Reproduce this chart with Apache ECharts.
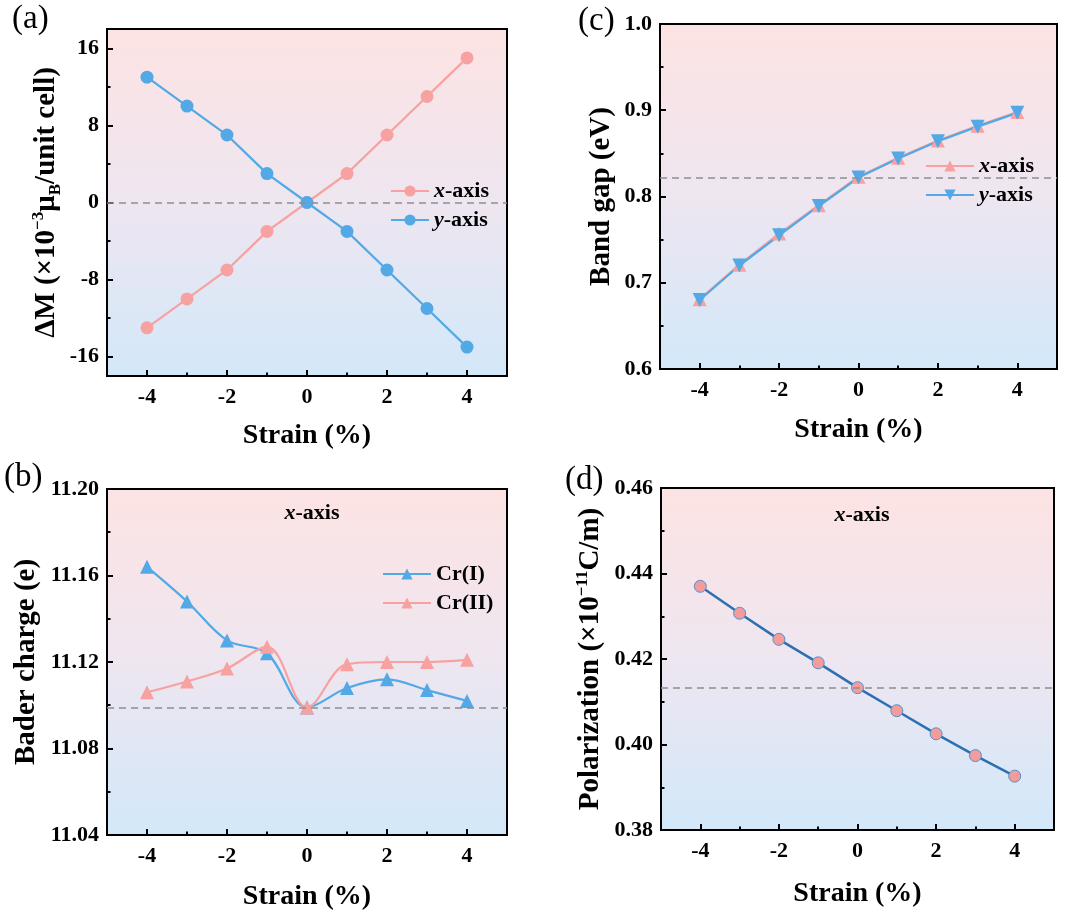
<!DOCTYPE html>
<html>
<head>
<meta charset="utf-8">
<script src="https://cdn.jsdelivr.net/npm/echarts@6/dist/echarts.min.js"></script>
<style>
  html, body { margin: 0; padding: 0; background: #fff; }
  #chart { width: 1080px; height: 914px; }
</style>
</head>
<body>
<div id="chart"></div>
<script>
// strain values shared by all four panels
const strain = [-4, -3, -2, -1, 0, 1, 2, 3, 4];

// (a) magnetic moment change
const dmX = [-13, -10, -7, -3, 0, 3, 7, 11, 15];
const dmY = [13, 10, 7, 3, 0, -3, -7, -11, -15];
// (c) band gap
const gapX = [0.681, 0.721, 0.757, 0.790, 0.823, 0.845, 0.865, 0.882, 0.898];
const gapY = [0.680, 0.720, 0.755, 0.789, 0.822, 0.844, 0.864, 0.881, 0.897];
// (b) bader charge
const baderCr1 = [11.164, 11.148, 11.130, 11.124, 11.099, 11.108, 11.112, 11.107, 11.102];
const baderCr2 = [11.106, 11.111, 11.117, 11.127, 11.099, 11.119, 11.120, 11.120, 11.121];
// (d) polarization
const polX = [0.4370, 0.4307, 0.4246, 0.4191, 0.4133, 0.4079, 0.4025, 0.3974, 0.3926];

// dashed reference levels
const refA = 0, refB = 11.0987, refC = 0.822, refD = 0.4133;

// tick values
const xMajor = [-4, -2, 0, 2, 4];
const xMinor = [-3, -1, 1, 3];
const aMajor = [-16, -8, 0, 8, 16];
const aMinor = [-12, -4, 4, 12];
const bMajor = [11.04, 11.08, 11.12, 11.16, 11.20];
const bMinor = [11.06, 11.10, 11.14, 11.18];
const cMajor = [0.6, 0.7, 0.8, 0.9, 1.0];
const cMinor = [0.65, 0.75, 0.85, 0.95];
const dMajor = [0.38, 0.40, 0.42, 0.44, 0.46];
const dMinor = [0.39, 0.41, 0.43, 0.45];

const FONT = 'Liberation Serif';
const PINK = '#f7a1a0';
const BLUE = '#52a9e5';
const DBLUE = '#2c6fb3';

const chart = echarts.init(document.getElementById('chart'));

const bg = () => new echarts.graphic.LinearGradient(0, 0, 0, 1, [
  { offset: 0, color: '#fde3e3' },
  { offset: 0.5, color: '#eee6f0' },
  { offset: 1, color: '#d2e8f9' }
]);

function nameStyle(size) {
  return {
    fontFamily: FONT, fontWeight: 'bold', fontSize: size, color: '#000',
    rich: {
      n: { fontFamily: FONT, fontWeight: 'bold', fontSize: size, lineHeight: 34, color: '#000' },
      sup: { fontFamily: FONT, fontWeight: 'bold', fontSize: 17, lineHeight: 18, verticalAlign: 'top', color: '#000' },
      sub: { fontFamily: FONT, fontWeight: 'bold', fontSize: 17, lineHeight: 18, verticalAlign: 'bottom', color: '#000' }
    }
  };
}
const labelFont = { fontFamily: FONT, fontWeight: 'bold', fontSize: 22, color: '#000' };
const blackLine = { show: true, onZero: false, lineStyle: { color: '#000', width: 2 } };

// main axis (line, labels, long ticks) plus overlapping axis carrying the short ticks
function xAxes(gi, gap) {
  return [{
    type: 'value', gridIndex: gi, position: 'bottom', min: -5, max: 5,
    axisLine: blackLine,
    axisTick: { show: true, inside: true, length: 6, lineStyle: { color: '#000', width: 2 }, customValues: xMajor },
    axisLabel: Object.assign({ customValues: xMajor, margin: 10 }, labelFont),
    splitLine: { show: false },
    name: 'Strain (%)', nameLocation: 'middle', nameGap: gap, nameTextStyle: nameStyle(28)
  }, {
    type: 'value', gridIndex: gi, position: 'bottom', min: -5, max: 5,
    axisLine: blackLine,
    axisTick: { show: true, inside: true, length: 3.5, lineStyle: { color: '#000', width: 2 }, customValues: xMinor },
    axisLabel: { show: false },
    splitLine: { show: false }
  }];
}

function yAxes(gi, min, max, major, minor, digits, name, gap) {
  return [{
    type: 'value', gridIndex: gi, position: 'left', min: min, max: max,
    axisLine: blackLine,
    axisTick: { show: true, inside: true, length: 6, lineStyle: { color: '#000', width: 2 }, customValues: major },
    axisLabel: Object.assign({
      customValues: major, margin: 8, showMinLabel: true, showMaxLabel: true,
      formatter: v => v.toFixed(digits)
    }, labelFont),
    splitLine: { show: false },
    name: name, nameLocation: 'middle', nameGap: gap, nameTextStyle: nameStyle(29)
  }, {
    type: 'value', gridIndex: gi, position: 'left', min: min, max: max,
    axisLine: blackLine,
    axisTick: { show: true, inside: true, length: 3.5, lineStyle: { color: '#000', width: 2 }, customValues: minor },
    axisLabel: { show: false },
    splitLine: { show: false }
  }];
}

const pairs = arr => strain.map((s, i) => [s, arr[i]]);
const refLine = v => ({
  silent: true, symbol: 'none', precision: 5, label: { show: false },
  lineStyle: { type: [7, 5], color: '#8f8f8f', width: 1.5 },
  data: [{ yAxis: v }]
});

const downTri = 'path://M0,0 L10,0 L5,9 Z';

const legendText = {
  'a-x': '{i|x}{n|-axis}', 'a-y': '{i|y}{n|-axis}',
  'c-x': '{i|x}{n|-axis}', 'c-y': '{i|y}{n|-axis}',
  'b-1': '{n|Cr(I)}', 'b-2': '{n|Cr(II)}'
};
const legendRich = {
  i: { fontFamily: FONT, fontWeight: 'bold', fontStyle: 'italic', fontSize: 22, lineHeight: 20, color: '#000' },
  n: { fontFamily: FONT, fontWeight: 'bold', fontSize: 22, lineHeight: 20, color: '#000' }
};
function legend(names, left, top, w) {
  return {
    data: names, left: left, top: top, orient: 'vertical', itemWidth: w, itemHeight: 14, itemGap: 7,
    selectedMode: false, formatter: n => legendText[n],
    textStyle: { rich: legendRich }
  };
}

const xs = [].concat(xAxes(0, 46), xAxes(1, 47), xAxes(2, 48), xAxes(3, 50));
const ys = [].concat(
  yAxes(0, -18, 18, aMajor, aMinor, 0, '{n|ΔM (×10}{sup|−3}{n|μ}{sub|B}{n|/unit cell)}', 43),
  yAxes(1, 0.6, 1.0, cMajor, cMinor, 1, 'Band gap (eV)', 44),
  yAxes(2, 11.04, 11.20, bMajor, bMinor, 2, 'Bader charge (e)', 66),
  yAxes(3, 0.38, 0.46, dMajor, dMinor, 2, '{n|Polarization (×10}{sup|−11}{n|C/m)}', 53)
);

const annot = (x, y) => ({
  type: 'text', x: x, y: y, z: 10,
  style: {
    text: '{i|x}{n|-axis}', align: 'center', verticalAlign: 'middle',
    rich: legendRich
  }
});
const panelTag = (t, x, y) => ({
  type: 'text', x: x, y: y, z: 10,
  style: { text: t, fontFamily: FONT, fontSize: 33, fill: '#000' }
});

chart.setOption({
  backgroundColor: '#fff',
  animation: false,
  grid: [
    { left: 107, top: 29, width: 400, height: 347 },
    { left: 660, top: 24, width: 397, height: 345 },
    { left: 107, top: 489, width: 400, height: 346 },
    { left: 661, top: 488, width: 393, height: 342 }
  ].map(g => Object.assign(g, { show: true, backgroundColor: bg(), borderColor: '#000', borderWidth: 2 })),
  xAxis: xs,
  yAxis: ys,
  legend: [
    legend(['a-x', 'a-y'], 385, 175, 38),
    legend(['c-x', 'c-y'], 920, 150, 48),
    legend(['b-1', 'b-2'], 377, 558, 48)
  ],
  graphic: [
    panelTag('(a)', 12, 3),
    panelTag('(c)', 578, 5),
    panelTag('(b)', 4, 461),
    panelTag('(d)', 565, 464),
    annot(312, 513),
    annot(862, 515)
  ],
  series: [
    {
      name: 'a-x', type: 'line', xAxisIndex: 0, yAxisIndex: 0, data: pairs(dmX),
      symbol: 'circle', symbolSize: 13, lineStyle: { color: PINK, width: 2.2 }, itemStyle: { color: PINK },
      markLine: refLine(refA)
    },
    {
      name: 'a-y', type: 'line', xAxisIndex: 0, yAxisIndex: 0, data: pairs(dmY),
      symbol: 'circle', symbolSize: 13, lineStyle: { color: BLUE, width: 2.2 }, itemStyle: { color: BLUE }
    },
    {
      name: 'c-x', type: 'line', xAxisIndex: 2, yAxisIndex: 2, data: pairs(gapX),
      symbol: 'triangle', symbolSize: 14, lineStyle: { color: PINK, width: 2.2 }, itemStyle: { color: PINK },
      markLine: refLine(refC)
    },
    {
      name: 'c-y', type: 'line', xAxisIndex: 2, yAxisIndex: 2, data: pairs(gapY),
      symbol: downTri, symbolSize: 14, lineStyle: { color: BLUE, width: 2.2 }, itemStyle: { color: BLUE }
    },
    {
      name: 'b-1', type: 'line', xAxisIndex: 4, yAxisIndex: 4, data: pairs(baderCr1), smooth: 0.35,
      symbol: 'triangle', symbolSize: 14, lineStyle: { color: BLUE, width: 2.2 }, itemStyle: { color: BLUE },
      markLine: refLine(refB)
    },
    {
      name: 'b-2', type: 'line', xAxisIndex: 4, yAxisIndex: 4, data: pairs(baderCr2), smooth: 0.35,
      symbol: 'triangle', symbolSize: 14, lineStyle: { color: PINK, width: 2.2 }, itemStyle: { color: PINK }
    },
    {
      name: 'd-x', type: 'line', xAxisIndex: 6, yAxisIndex: 6, data: pairs(polX),
      symbol: 'circle', symbolSize: 12, lineStyle: { color: DBLUE, width: 2.5 },
      itemStyle: { color: '#f29c9c', borderColor: '#5b8fc7', borderWidth: 1 },
      markLine: refLine(refD)
    }
  ]
});
</script>
</body>
</html>
